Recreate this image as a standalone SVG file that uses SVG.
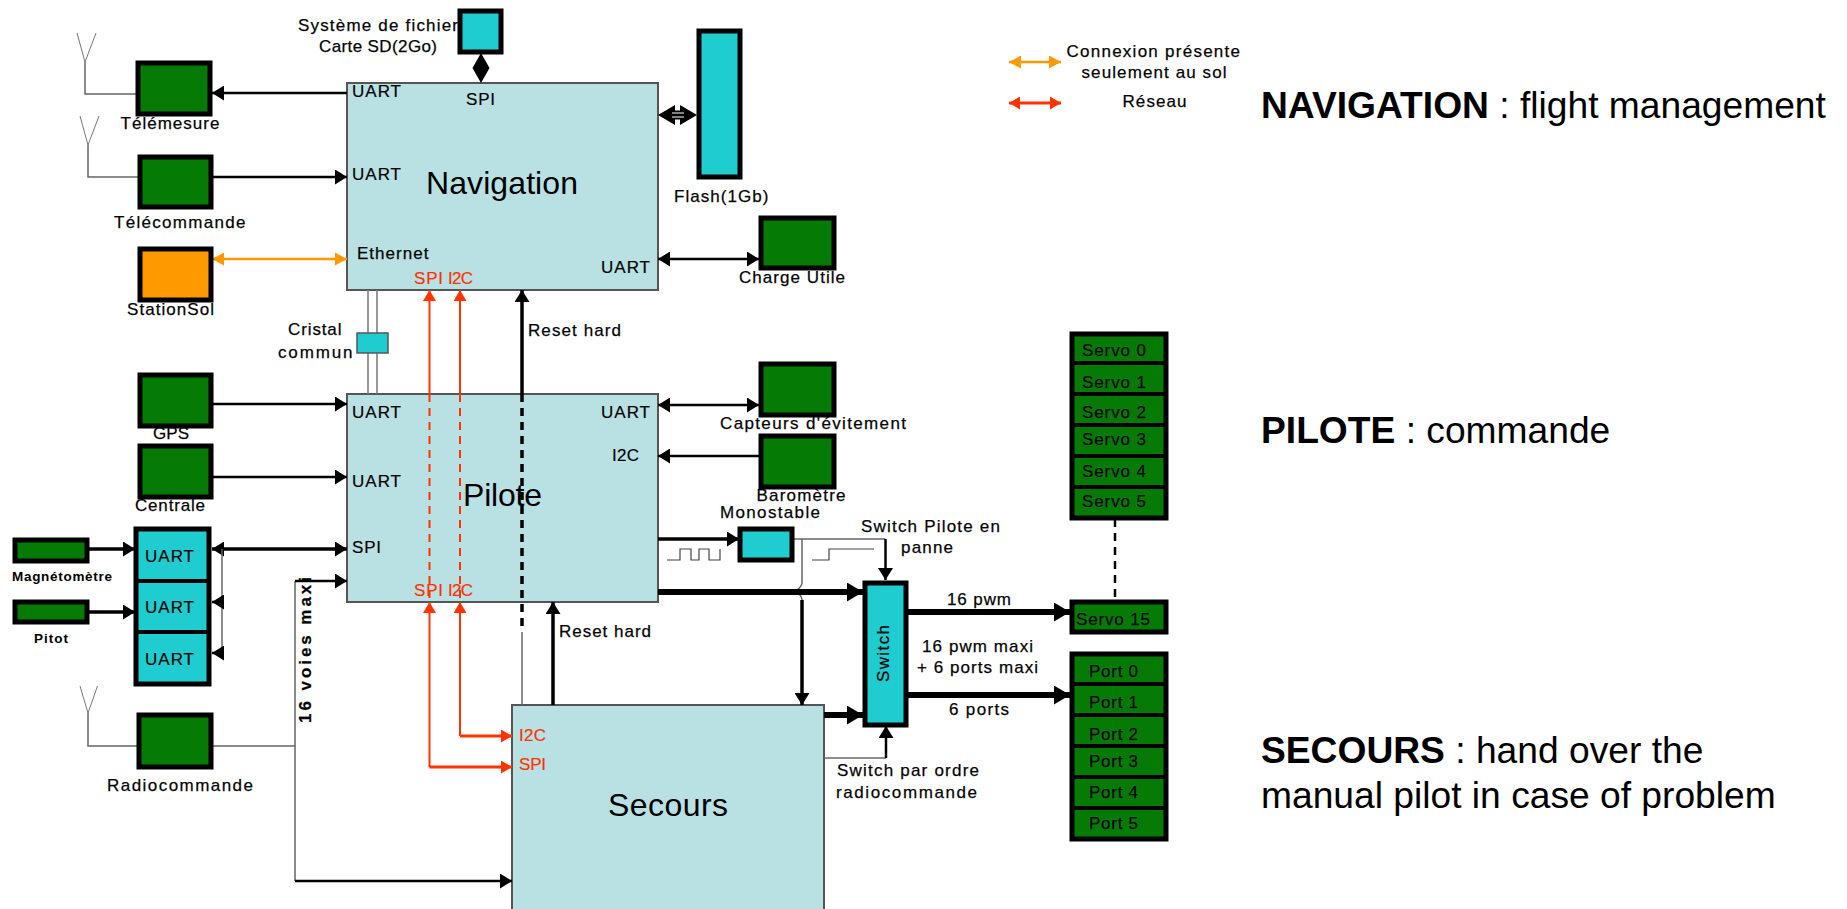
<svg xmlns="http://www.w3.org/2000/svg" width="1847" height="909" viewBox="0 0 1847 909">
<style>
text{font-family:"Liberation Sans",Arial,sans-serif;fill:#000}
.s{font-size:17px;stroke:#111;stroke-width:.25}.m{font-size:17px;stroke:#111;stroke-width:.2}.b{font-size:32px}.r{fill:#ff3300;stroke:#ff3300}
.x{font-size:13.5px;font-weight:bold}
.rt{font-size:37.2px}
.bl{fill:#b9e0e3;stroke:#555;stroke-width:2}
.g{fill:#057a05;stroke:#000;stroke-width:5}
.c{fill:#1fcdd0;stroke:#000;stroke-width:5}
.o{fill:#ff9900;stroke:#000;stroke-width:5}
.n{fill:none;stroke:#000}
.t2{stroke-width:2.5}.t3{stroke-width:3.5}.t6{stroke-width:6}
.y{fill:none;stroke:#666;stroke-width:1.5}
.rd{fill:none;stroke:#ff3300;stroke-width:2}
.bk{marker-end:url(#a)}.bkb{marker-start:url(#a);marker-end:url(#a)}
.bg{marker-end:url(#al)}
.rdm{marker-end:url(#ar)}
</style>
<defs>
<marker id="a" markerUnits="userSpaceOnUse" markerWidth="13" markerHeight="15" refX="12" refY="7.5" orient="auto-start-reverse"><path d="M0 0L12 7.5L0 15z" fill="#000"/></marker>
<marker id="al" markerUnits="userSpaceOnUse" markerWidth="17" markerHeight="19" refX="16" refY="9.5" orient="auto-start-reverse"><path d="M0 0L16 9.5L0 19z" fill="#000"/></marker>
<marker id="ar" markerUnits="userSpaceOnUse" markerWidth="12" markerHeight="13" refX="11" refY="6.5" orient="auto-start-reverse"><path d="M0 0L11 6.5L0 13z" fill="#ff3300"/></marker>
<marker id="ao" markerUnits="userSpaceOnUse" markerWidth="13" markerHeight="13" refX="12" refY="6.5" orient="auto-start-reverse"><path d="M0 0L12 6.5L0 13z" fill="#ff9900"/></marker>
</defs>

<g id="navigation"><rect class="bl" x="347" y="83" width="311" height="207"/>
<text class="b" x="426" y="194" textLength="152">Navigation</text>
<text class="m" x="352" y="97" textLength="49">UART</text><text class="m" x="352" y="180" textLength="49">UART</text>
<text class="m" x="466" y="105" textLength="29">SPI</text><text class="s" x="357" y="259" textLength="71.500">Ethernet</text>
<text class="m" x="601" y="273" textLength="49">UART</text>
<text class="m r" x="414" y="284" textLength="29">SPI</text><text class="m r" x="448" y="284" textLength="25">I2C</text></g>

<g id="pilote"><rect class="bl" x="347" y="394" width="311" height="208"/>
<text class="m" x="352" y="418" textLength="49">UART</text><text class="m" x="352" y="487" textLength="49">UART</text>
<text class="m" x="352" y="553" textLength="29">SPI</text><text class="m" x="601" y="418" textLength="49">UART</text>
<text class="m" x="612" y="461" textLength="27">I2C</text>
<text class="m r" x="414" y="596" textLength="29">SPI</text><text class="m r" x="448" y="596" textLength="25">I2C</text></g>

<g id="secours"><rect class="bl" x="512" y="705" width="312" height="210"/>
<text class="b" x="608" y="816" textLength="120">Secours</text>
<text class="m r" x="519" y="741" textLength="27">I2C</text><text class="m r" x="519" y="770" textLength="27">SPI</text></g>

<g id="connectors">
<path d="M77 33L85 62L96 33M80 116L88 145L99 116M80 686L88 713L97.500 686" fill="none" stroke="#777" stroke-width="1"/>
<path class="y" d="M85 62V94H136M88 145V177H138M88 713V746H137M212 746H295M295 581V881"/>
<path class="n t2 bk" d="M347 93H212"/>
<path class="n t2 bk" d="M212 177H347"/>
<path d="M212 259H347" fill="none" stroke="#ff9900" stroke-width="2.500" marker-start="url(#ao)" marker-end="url(#ao)"/>
<path class="n t2 bk" d="M212 404H347"/>
<path class="n t2 bk" d="M212 477H347"/>
<path class="n t3 bkb" d="M212 549H347"/>
<path class="n t3 bk" d="M88 549H135"/>
<path class="n t3 bk" d="M88 612H135"/>
<path class="y" d="M222 549V653"/>
<path class="n t2 bk" d="M222 602H212"/>
<path class="n t2 bk" d="M222 653H212"/>
<path class="n t2 bk" d="M295 581H347"/>
<path class="n t2 bk" d="M295 881H512"/>
<path d="M481 53L489.500 68L481 83L472.500 68z" fill="#000"/>
<path d="M672 115H685" fill="none" stroke="#000" stroke-width="9"/>
<path d="M658 115L675 105V125zM697 115L680 105V125z" fill="#000"/>
<path d="M672 113H684M672 117H684" stroke="#fff" stroke-width="1.200"/>
<path class="n t2 bkb" d="M658 259H759"/>
<path class="n t2 bkb" d="M658 405H759"/>
<path class="n t2 bk" d="M762 456H658"/>
<path d="M368 290V394M377 290V394" fill="none" stroke="#777" stroke-width="1.500"/>
<path class="rd rdm" d="M429.500 394V290"/><path class="rd rdm" d="M460 394V290"/>
<path class="rd" stroke-dasharray="8 6" d="M429.500 394V602M460 394V602"/>
<path class="rd rdm" d="M429.500 767V602"/><path class="rd rdm" d="M460 736V602"/>
<path class="rd rdm" style="stroke-width:3" d="M429.500 767H512"/><path class="rd rdm" style="stroke-width:3" d="M460 736H512"/>
<path class="n t3 bk" d="M522 394V290"/>
<path class="n t3" stroke-dasharray="8 6" d="M522 394V632"/>
<path class="y" d="M522 632V705"/>
<path class="n t3 bk" d="M553 705V602"/>
<path class="n t3 bk" d="M658 539H739"/>
<path d="M667 560H680V549H691V560H699V549H709V560H720V549" fill="none" stroke="#444" stroke-width="1.200"/>
<path d="M812 560H829V549H874" fill="none" stroke="#444" stroke-width="1.200"/>
<path class="y" d="M793 539H885.500M802 539V583Q802 586 796 591Q802 596 802 600"/>
<path class="n t2 bk" d="M885.500 539V580"/>
<path class="n t6 bg" d="M658 592H863"/>
<path class="n t3 bk" d="M802 600V705"/>
<path class="n t6 bg" d="M824 715H863"/>
<path class="y" d="M824 758H886"/>
<path class="n t2 bk" d="M886 758V726"/>
<path class="n t6 bg" d="M907 612H1070"/>
<path class="n t6 bg" d="M907 695H1070"/>
<path class="n t2" stroke-dasharray="8 6" d="M1115 519V600"/>
<path d="M1009 62H1061" fill="none" stroke="#ff9900" stroke-width="2.500" marker-start="url(#ao)" marker-end="url(#ao)"/>
<path d="M1009 103H1061" fill="none" stroke="#ff3300" stroke-width="3" marker-start="url(#ar)" marker-end="url(#ar)"/>
</g>

<g id="sd"><rect class="c" x="460" y="11" width="41" height="41"/><text class="s" x="298" y="31" textLength="160">Système de fichier</text><text class="s" x="319" y="52" textLength="118">Carte SD(2Go)</text></g>
<g id="telemesure"><rect class="g" x="138" y="63" width="72" height="51"/><text class="s" x="120.500" y="129" textLength="99">Télémesure</text></g>
<g id="telecommande"><rect class="g" x="140" y="157" width="71" height="50"/><text class="s" x="114" y="228" textLength="131.500">Télécommande</text></g>
<g id="stationsol"><rect class="o" x="140" y="249" width="71" height="51"/><text class="s" x="127" y="315" textLength="87">StationSol</text></g>
<g id="gps"><rect class="g" x="140" y="375" width="71" height="51"/><text class="s" x="153" y="439" textLength="36">GPS</text></g>
<g id="centrale"><rect class="g" x="140" y="446" width="71" height="51"/><text class="s" x="135" y="511" textLength="70">Centrale</text></g>
<g id="magneto"><rect class="g" x="15" y="540" width="72" height="21"/><text class="x" x="12" y="581" textLength="100">Magnétomètre</text></g>
<g id="pitot"><rect class="g" x="15" y="602" width="72" height="20"/><text class="x" x="34" y="643" textLength="34">Pitot</text></g>
<g id="uart-stack"><rect class="c" x="136" y="529" width="73" height="155"/><path d="M136 581H209M136 632H209" stroke="#000" stroke-width="4"/>
<text class="m" x="145" y="562" textLength="49">UART</text><text class="m" x="145" y="613" textLength="49">UART</text><text class="m" x="145" y="665" textLength="49">UART</text></g>
<g id="radiocommande"><rect class="g" x="139" y="715" width="72" height="52"/><text class="s" x="107" y="791" textLength="146">Radiocommande</text></g>
<g id="flash"><rect class="c" x="699" y="31" width="41" height="146"/><text class="s" x="674" y="202" textLength="94.500">Flash(1Gb)</text></g>
<g id="charge"><rect class="g" x="761" y="218" width="73" height="50"/><text class="s" x="739" y="283" textLength="106">Charge Utile</text></g>
<g id="capteurs"><rect class="g" x="761" y="364" width="73" height="51"/><text class="s" x="720" y="429" textLength="186">Capteurs d'évitement</text></g>
<g id="barometre"><rect class="g" x="761" y="436" width="73" height="51"/><text class="s" x="756.500" y="501" textLength="89">Baromètre</text></g>
<g id="monostable"><rect class="c" x="740" y="529" width="52" height="31"/><text class="s" x="720" y="518" textLength="100">Monostable</text></g>
<g id="switch"><rect class="c" x="865" y="583" width="41" height="142"/><text class="s" transform="translate(889 682) rotate(-90)" textLength="57">Switch</text></g>
<g id="servos"><rect class="g" x="1072" y="334" width="94" height="184"/><path d="M1072 363H1166M1072 394H1166M1072 425H1166M1072 456H1166M1072 487H1166" stroke="#000" stroke-width="4"/>
<text class="s" x="1082" y="356" textLength="64">Servo 0</text><text class="s" x="1082" y="388" textLength="64">Servo 1</text><text class="s" x="1082" y="418" textLength="64">Servo 2</text><text class="s" x="1082" y="445" textLength="64">Servo 3</text><text class="s" x="1082" y="477" textLength="64">Servo 4</text><text class="s" x="1082" y="507" textLength="64">Servo 5</text></g>
<g id="servo15"><rect class="g" x="1072" y="602" width="94" height="30"/><text class="s" x="1076" y="625" textLength="74">Servo 15</text></g>
<g id="ports"><rect class="g" x="1072" y="654" width="94" height="185"/><path d="M1072 684H1166M1072 715H1166M1072 746H1166M1072 777H1166M1072 808H1166" stroke="#000" stroke-width="4"/>
<text class="s" x="1089" y="677" textLength="49">Port 0</text><text class="s" x="1089" y="708" textLength="49">Port 1</text><text class="s" x="1089" y="740" textLength="49">Port 2</text><text class="s" x="1089" y="767" textLength="49">Port 3</text><text class="s" x="1089" y="798" textLength="49">Port 4</text><text class="s" x="1089" y="829" textLength="49">Port 5</text></g>
<g id="cristal"><rect fill="#1fcdd0" stroke="#555" stroke-width="1.500" x="357" y="333" width="31" height="20"/><text class="s" x="288" y="335" textLength="53.500">Cristal</text><text class="s" x="278" y="358" textLength="74.500">commun</text></g>

<g id="labels">
<text class="b" x="463" y="506" textLength="79">Pilote</text>
<text class="s" x="528" y="336" textLength="93">Reset hard</text><text class="s" x="559" y="637" textLength="92">Reset hard</text>
<text class="s" font-weight="bold" transform="translate(311 723) rotate(-90)" textLength="146">16 voies maxi</text>
<text class="s" x="861" y="532" textLength="139">Switch Pilote en</text><text class="s" x="901" y="553" textLength="52">panne</text>
<text class="s" x="947" y="605" textLength="64">16 pwm</text><text class="s" x="922" y="652" textLength="111">16 pwm maxi</text><text class="s" x="917" y="673" textLength="121">+ 6 ports maxi</text><text class="s" x="949" y="715" textLength="60">6 ports</text>
<text class="s" x="837" y="776" textLength="142">Switch par ordre</text><text class="s" x="836" y="798" textLength="141">radiocommande</text>
<text class="s" x="1066.500" y="57" textLength="173.500">Connexion présente</text><text class="s" x="1081.500" y="78" textLength="145">seulement au sol</text><text class="s" x="1122.500" y="107" textLength="64">Réseau</text>
<text class="rt" x="1261" y="118"><tspan font-weight="bold">NAVIGATION</tspan> : flight management</text>
<text class="rt" x="1261" y="443"><tspan font-weight="bold">PILOTE</tspan> : commande</text>
<text class="rt" x="1261" y="763"><tspan font-weight="bold">SECOURS</tspan> : hand over the</text>
<text class="rt" x="1261" y="808">manual pilot in case of problem</text>
</g>
</svg>
